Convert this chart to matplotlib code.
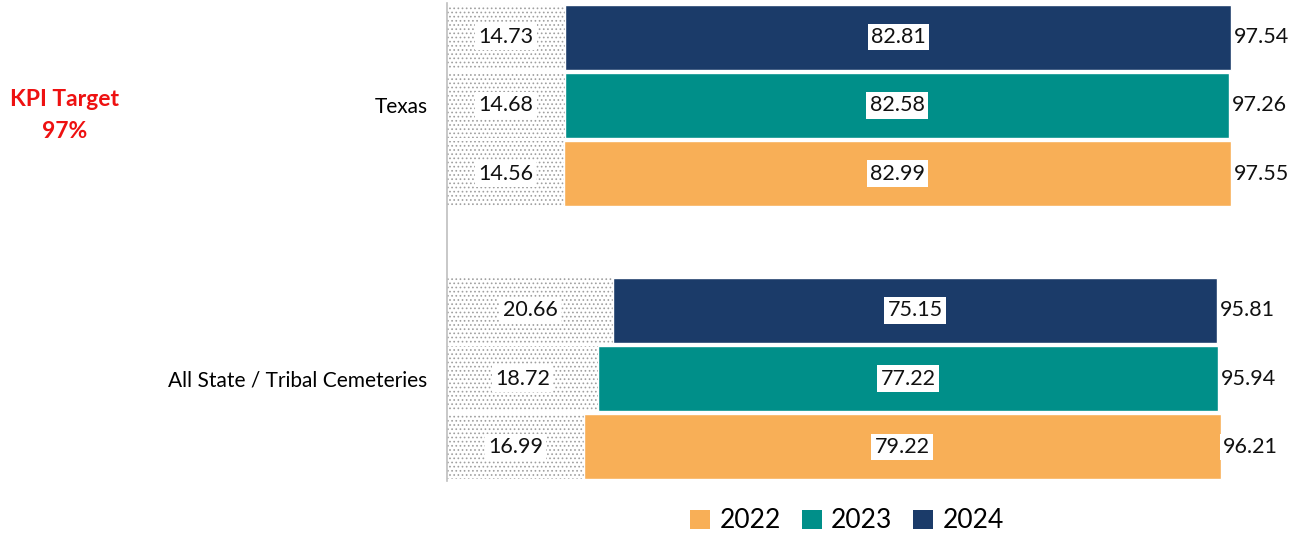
import matplotlib
matplotlib.use("Agg")
import matplotlib.pyplot as plt
from matplotlib.patches import Patch
import matplotlib as mpl

plt.rcParams['font.family'] = ['Lato', 'DejaVu Sans']
mpl.rcParams['hatch.color'] = '#6a6a6a'
mpl.rcParams['hatch.linewidth'] = 0.7

categories = ["Texas", "All State / Tribal Cemeteries"]
years = ["2022", "2023", "2024"]
colors = {"2022": "#F8AF57", "2023": "#008F89", "2024": "#1B3B69"}

# first (dotted) segment, second (coloured) segment, total
first_seg = {
    "Texas": {"2022": 14.56, "2023": 14.68, "2024": 14.73},
    "All State / Tribal Cemeteries": {"2022": 16.99, "2023": 18.72, "2024": 20.66},
}
second_seg = {
    "Texas": {"2022": 82.99, "2023": 82.58, "2024": 82.81},
    "All State / Tribal Cemeteries": {"2022": 79.22, "2023": 77.22, "2024": 75.15},
}
totals = {
    "Texas": {"2022": 97.55, "2023": 97.26, "2024": 97.54},
    "All State / Tribal Cemeteries": {"2022": 96.21, "2023": 95.94, "2024": 95.81},
}

W, H = 1297, 539
fig = plt.figure(figsize=(W / 100, H / 100), dpi=100)
ax_left = 447 / W
ax_top = 1 - 3 / H
ax_bottom = 1 - 481 / H
ax = fig.add_axes([ax_left, ax_bottom, 1 - ax_left, ax_top - ax_bottom])

px_per_unit = 8.04
xmax = (W - 447) / px_per_unit
ax.set_xlim(0, xmax)
ax.set_ylim(6.5, -0.5)

slot = {("Texas", "2024"): 0, ("Texas", "2023"): 1, ("Texas", "2022"): 2,
        ("All State / Tribal Cemeteries", "2024"): 4,
        ("All State / Tribal Cemeteries", "2023"): 5,
        ("All State / Tribal Cemeteries", "2022"): 6}

bh = 0.95
box = dict(boxstyle="square,pad=0.15", fc="white", ec="none")
fs = 15.5
for cat in categories:
    for yr in years:
        y = slot[(cat, yr)]
        a = first_seg[cat][yr]
        b = second_seg[cat][yr]
        t = totals[cat][yr]
        ax.barh(y, a, height=bh, color="white", hatch="....", edgecolor="#a0a0a0", linewidth=0)
        ax.barh(y, b, left=a, height=bh, color=colors[yr], edgecolor="white", linewidth=1)
        ax.text(a / 2, y, f"{a:.2f}", ha="center", va="center", fontsize=fs, bbox=box, color="#111111")
        ax.text(a + b / 2, y, f"{b:.2f}", ha="center", va="center", fontsize=fs, bbox=box, color="#111111")
        ax.text(a + b + 0.35, y, f"{t:.2f}", ha="left", va="center", fontsize=fs, bbox=box, color="#111111")

for s in ["top", "right", "bottom"]:
    ax.spines[s].set_visible(False)
ax.spines["left"].set_color("#bfbfbf")
ax.spines["left"].set_linewidth(1.2)
ax.set_xticks([])
ax.set_yticks([1, 5])
ax.set_yticklabels(categories, fontsize=15)
ax.tick_params(axis="y", length=0, pad=23 - 9)

fig.text(65 / W, 1 - 100 / H, "KPI Target", color="#EE1111", fontsize=16.5, fontweight="bold", ha="center", va="center")
fig.text(65 / W, 1 - 131 / H, "97%", color="#EE1111", fontsize=16.5, fontweight="bold", ha="center", va="center")

handles = [Patch(facecolor=colors[y], edgecolor="none", label=y) for y in years]
fig.legend(handles=handles, loc="center", bbox_to_anchor=(847 / W, 1 - 521 / H), ncol=3, frameon=False,
           fontsize=19, handlelength=0.75, handleheight=0.75, handletextpad=0.35, columnspacing=0.8)

fig.savefig("out.png", dpi=100)
